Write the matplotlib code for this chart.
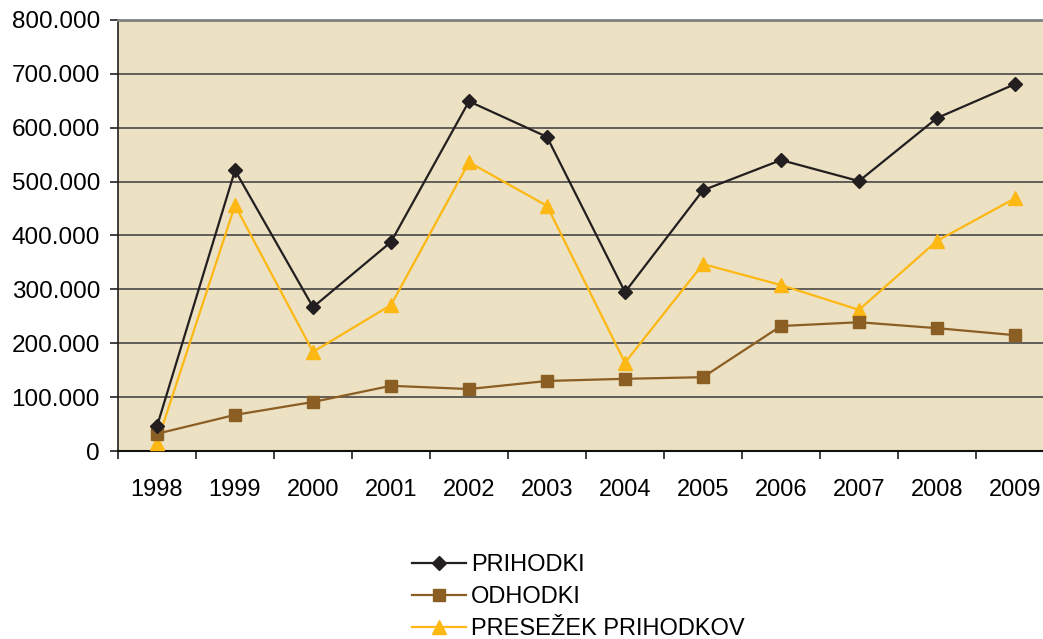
import matplotlib
matplotlib.use("Agg")
import matplotlib.pyplot as plt
from matplotlib.ticker import FuncFormatter, FixedLocator
import numpy as np

years = ["1998", "1999", "2000", "2001", "2002", "2003", "2004", "2005", "2006", "2007", "2008", "2009"]
prihodki = [46, 521, 267, 388, 649, 583, 295, 484, 540, 501, 618, 681]
odhodki = [32, 67, 91, 121, 115, 130, 134, 137, 232, 239, 228, 215]
presezek = [15, 456, 184, 271, 536, 455, 164, 347, 308, 262, 390, 469]
yticks = [0, 100, 200, 300, 400, 500, 600, 700, 800]

plt.rcParams['font.family'] = ['Liberation Sans', 'DejaVu Sans']

W, H = 1043, 639
fig = plt.figure(figsize=(W / 100, H / 100), dpi=100)
left, right, top, bottom = 118, 1054, 20, 451
ax = fig.add_axes([left / W, 1 - bottom / H, (right - left) / W, (bottom - top) / H])
ax.set_facecolor('#ECE1C3')

x = np.arange(len(years))
ax.plot(x, prihodki, color='#231F20', lw=1.6, marker='D', ms=7.5, label='PRIHODKI', zorder=5)
ax.plot(x, odhodki, color='#8B5E23', lw=1.6, marker='s', ms=8, label='ODHODKI', zorder=4)
ax.plot(x, presezek, color='#FDB813', lw=1.6, marker='^', ms=10, label='PRESEŽEK PRIHODKOV', zorder=3)

ax.set_xlim(-0.5, len(years) - 0.5)
ax.set_ylim(0, 800)
ax.set_yticks(yticks)
ax.yaxis.set_major_formatter(FuncFormatter(lambda v, p: '0' if v == 0 else f"{int(v)}.000"))
ax.set_xticks(x)
ax.set_xticklabels(years)
ax.xaxis.set_minor_locator(FixedLocator(np.arange(-0.5, len(years), 1.0)))
ax.tick_params(axis='x', which='major', length=0, pad=20, labelsize=17)
ax.tick_params(axis='x', which='minor', length=6, width=1.2, direction='out', color='#231F20')
ax.tick_params(axis='y', length=6, width=1.2, direction='out', color='#231F20', pad=7, labelsize=17.5)

ax.grid(axis='y', color='#3a3a3a', lw=1.1)
ax.set_axisbelow(True)
ax.spines['right'].set_visible(False)
ax.spines['top'].set_color('#7b8280')
ax.spines['top'].set_linewidth(2)
ax.spines['left'].set_color('#231F20')
ax.spines['left'].set_linewidth(1.2)
ax.spines['bottom'].set_color('#111111')
ax.spines['bottom'].set_linewidth(1.5)

fig.legend(loc='upper left', bbox_to_anchor=(412 / W, 1 - 554 / H), frameon=False,
           fontsize=17, handlelength=2.3, handletextpad=0.2, labelspacing=0.42,
           borderpad=0, borderaxespad=0)

fig.savefig('out.png', dpi=100)
